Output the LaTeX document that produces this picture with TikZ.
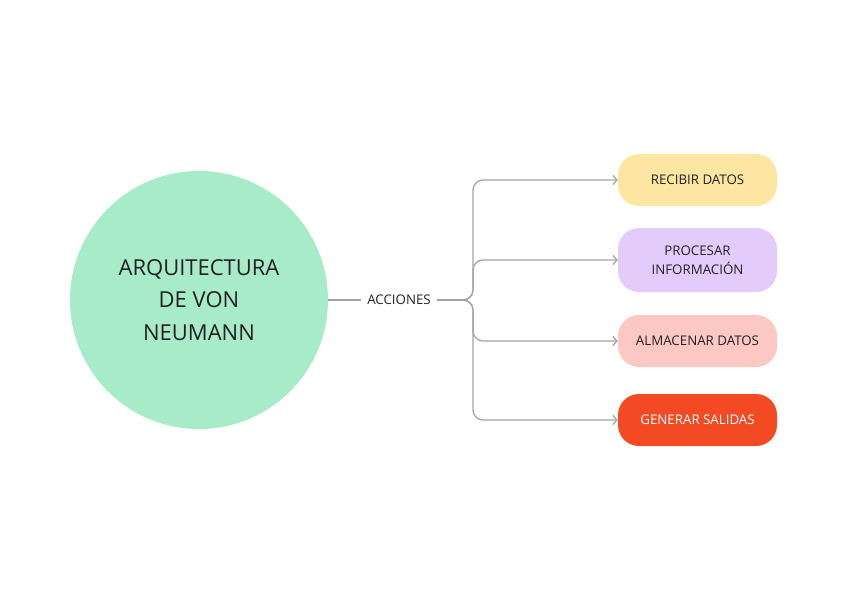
\documentclass[tikz,border=0pt]{standalone}
\usepackage{fontspec}
\setmainfont{Open Sans}
\usepackage{tikz}
\usetikzlibrary{positioning, arrows.meta}

\definecolor{verde}{HTML}{A8EBC8}
\definecolor{amarillo}{HTML}{FDE6A2}
\definecolor{lila}{HTML}{E3CCFB}
\definecolor{rosa}{HTML}{FDC8C3}
\definecolor{rojo}{HTML}{F44A24}
\definecolor{linea}{HTML}{A3A3A3}
\definecolor{texto}{HTML}{222222}

\tikzset{
    tarea/.style={rounded corners=21pt, minimum width=159pt, align=center,
        text=texto, font=\fontsize{13.3}{19.5}\selectfont},
    rama/.style={draw=linea, line width=1.3pt, rounded corners=10pt,
        -{Straight Barb[length=4pt, width=9pt]}}
}

\begin{document}
\begin{tikzpicture}[x=1pt, y=-1pt]
    \useasboundingbox (0,0) rectangle (848,599);

    \node[circle, fill=verde, minimum size=258pt, align=center, text=texto,
          font=\fontsize{22}{32.5}\selectfont] at (199,300) (arq)
          {ARQUITECTURA\\DE VON\\NEUMANN};
    \node[text=texto, font=\fontsize{13.3}{15}\selectfont, inner sep=6pt]
          at (399,300) (acc) {ACCIONES};
    \coordinate (fork) at (473,300);

    \node[tarea, fill=amarillo, minimum height=52pt] at (697.5,180) (rec) {RECIBIR DATOS};
    \node[tarea, fill=lila, minimum height=64pt] at (697.5,260) (pro) {PROCESAR\\INFORMACIÓN};
    \node[tarea, fill=rosa, minimum height=52pt] at (697.5,341) (alm) {ALMACENAR DATOS};
    \node[tarea, fill=rojo, minimum height=52pt, text=white] at (697.5,420) (gen) {GENERAR SALIDAS};

    \draw[draw=linea, line width=1.3pt] (arq) -- (acc);
    \draw[rama] (acc.east) -- (fork) |- (rec.west);
    \draw[rama] (acc.east) -- (fork) |- (pro.west);
    \draw[rama] (acc.east) -- (fork) |- (alm.west);
    \draw[rama] (acc.east) -- (fork) |- (gen.west);
\end{tikzpicture}
\end{document}
